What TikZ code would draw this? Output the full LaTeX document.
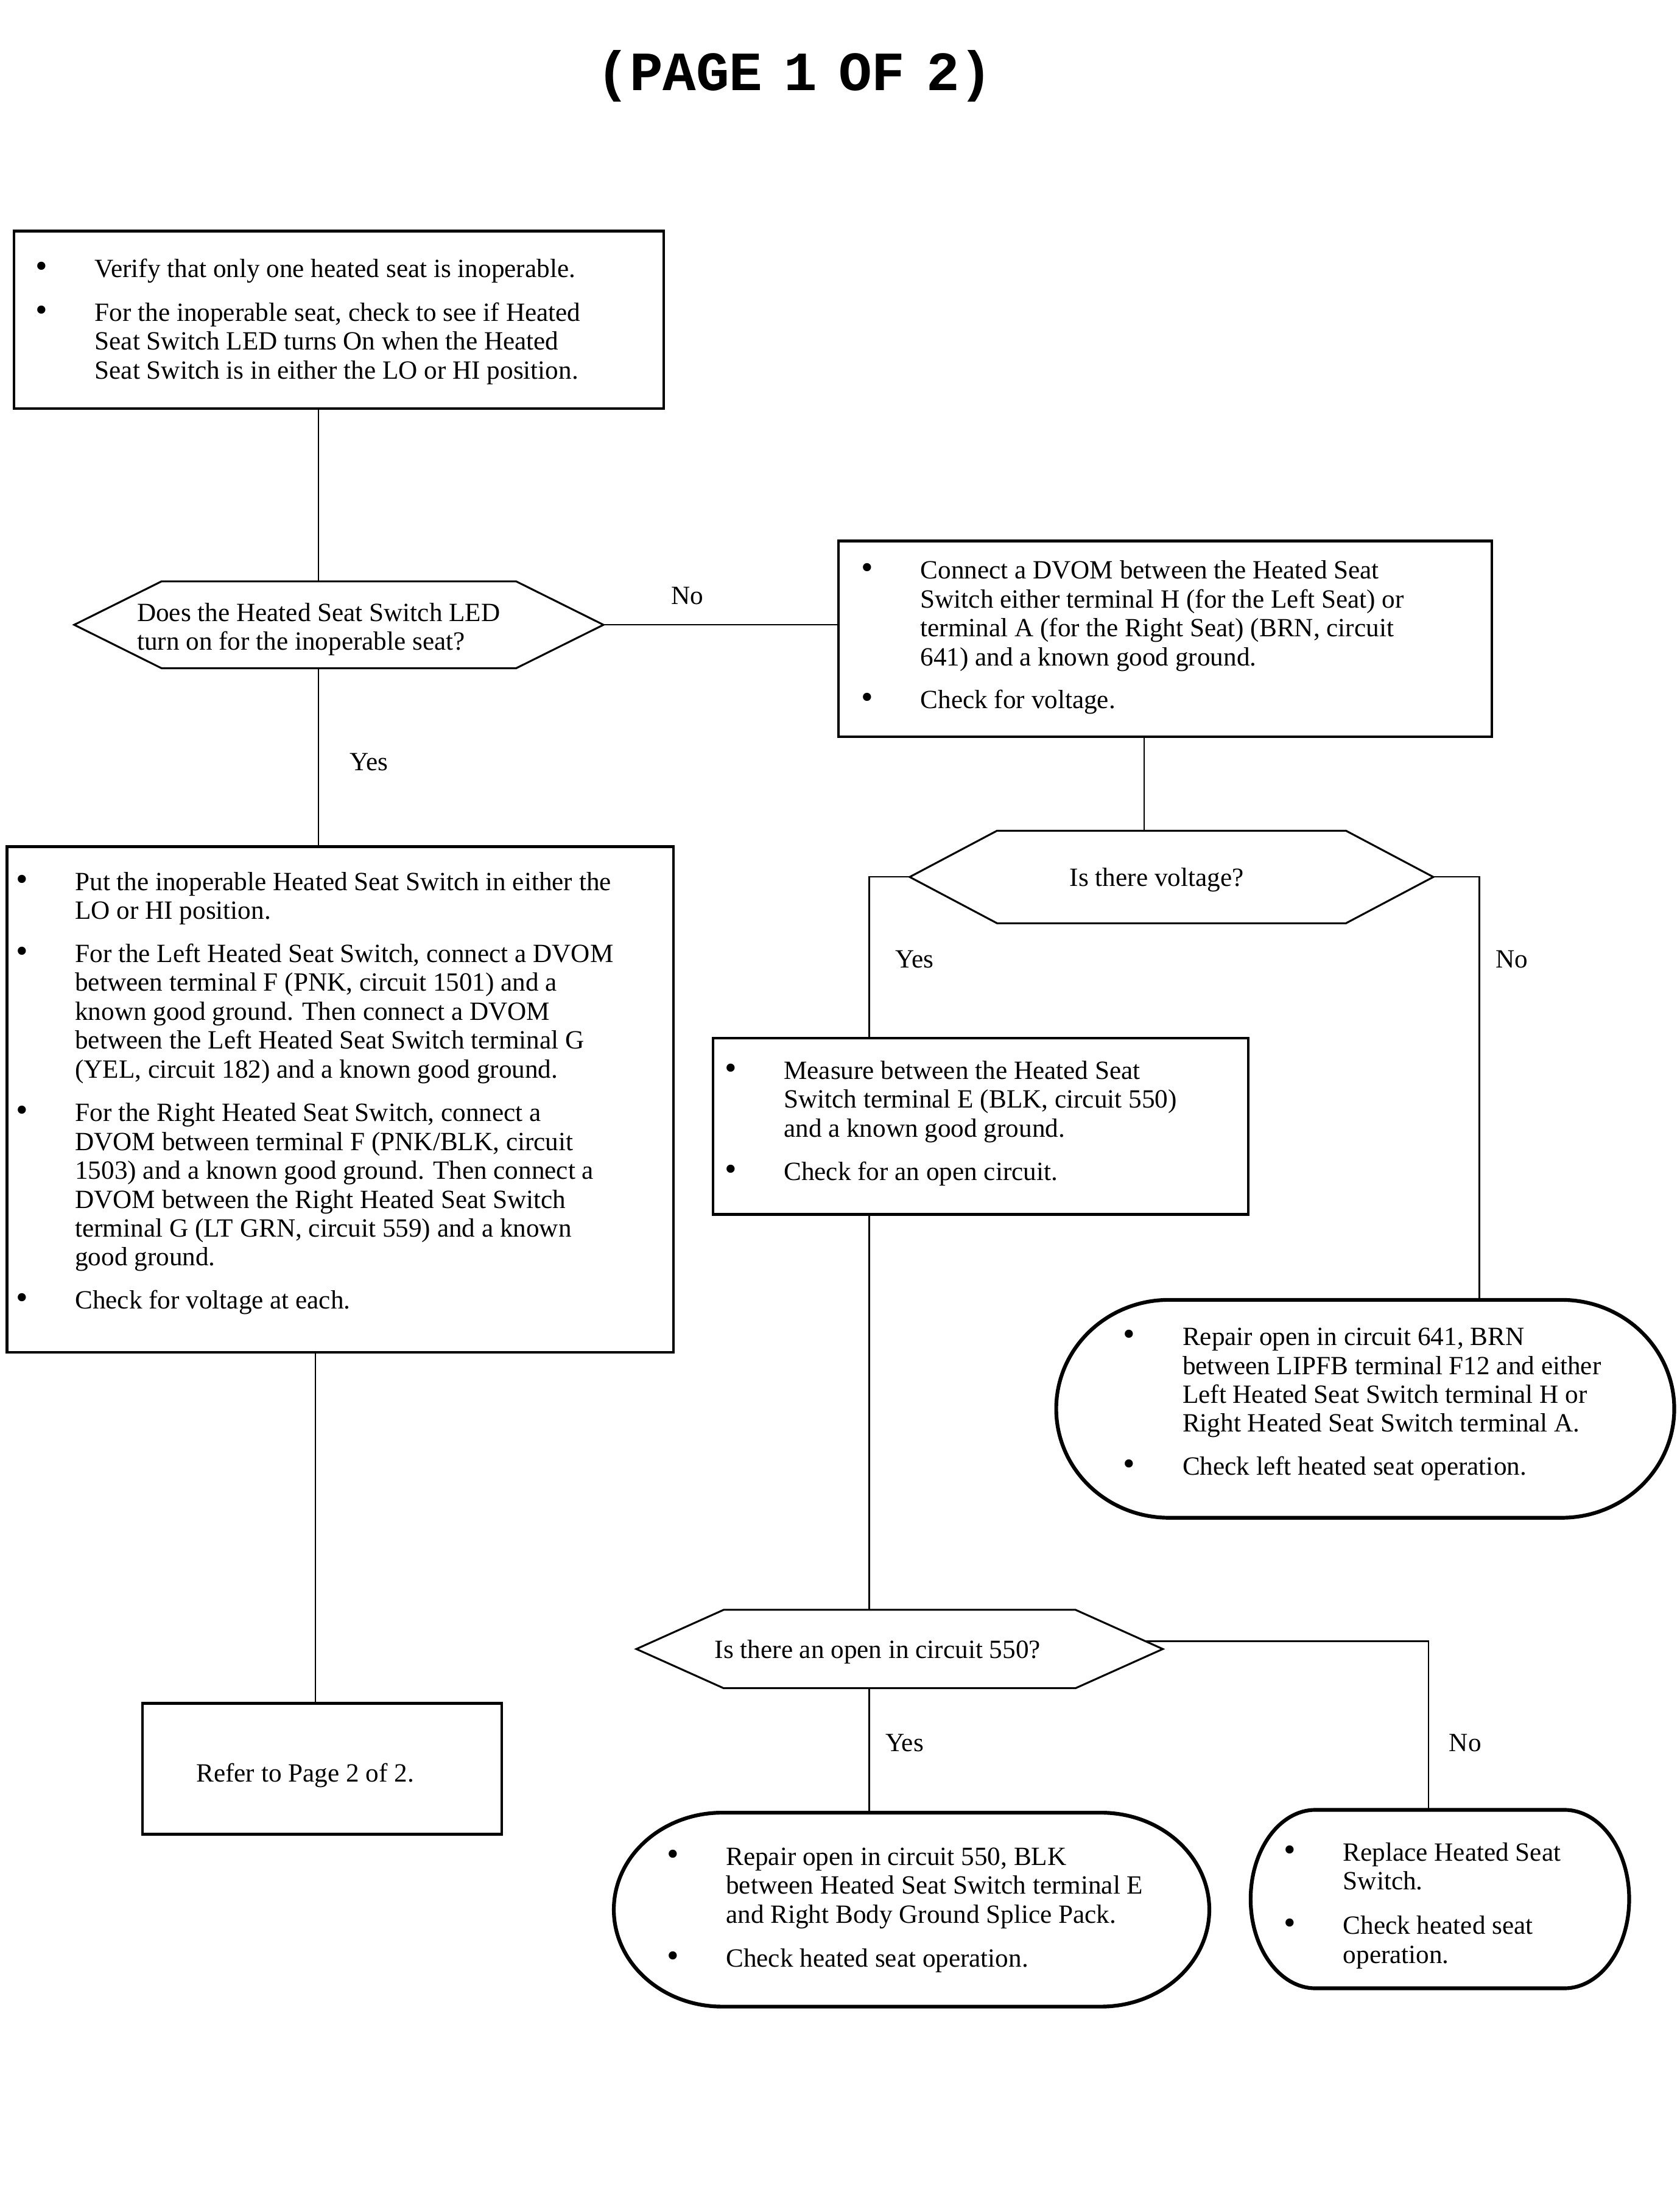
\documentclass[tikz,border=0pt]{standalone}
\usepackage{fontspec}
\setmainfont{Liberation Serif}
\newfontfamily\titlefont[WordSpace=0.64]{Liberation Mono}
\usetikzlibrary{fit,calc}
\newcommand\hexshape[2]{\draw[hexline] (#1.west) -- ($(#1.north west)+(#2,0)$) -- ($(#1.north east)+(-#2,0)$) -- (#1.east) -- ($(#1.south east)+(-#2,0)$) -- ($(#1.south west)+(#2,0)$) -- cycle;}
\newcommand\termshape[2]{\draw[termline] ($(#1.north west)+(#2,0)$) -- ($(#1.north east)+(-#2,0)$)
 .. controls ($(#1.north east)+(-0.4477*#2,0)$) and ($(#1.east)!0.5523!(#1.north east)$) .. (#1.east)
 .. controls ($(#1.east)!0.5523!(#1.south east)$) and ($(#1.south east)+(-0.4477*#2,0)$) .. ($(#1.south east)+(-#2,0)$)
 -- ($(#1.south west)+(#2,0)$)
 .. controls ($(#1.south west)+(0.4477*#2,0)$) and ($(#1.west)!0.5523!(#1.south west)$) .. (#1.west)
 .. controls ($(#1.west)!0.5523!(#1.north west)$) and ($(#1.north west)+(0.4477*#2,0)$) .. ($(#1.north west)+(#2,0)$) -- cycle;}
\begin{document}
\begin{tikzpicture}[x=0.6pt,y=-0.6pt,
  box/.style={draw, line width=1.1pt, inner sep=0pt},
  ghost/.style={draw=none, inner sep=0pt},
  hexline/.style={line width=0.8pt, line join=miter},
  termline/.style={line width=1.6pt, line join=round},
  conn/.style={line width=0.6pt},
  txt/.style={anchor=base west, inner sep=0pt, align=left, font=\fontsize{11.2}{12.3}\selectfont},
  bul/.style={anchor=base west, inner sep=0pt, xshift=-0.6pt, font=\fontsize{14.5}{15}\selectfont},
  lbl/.style={anchor=base, inner sep=0pt, font=\fontsize{11.2}{12.3}\selectfont}]
\path[fill=white, use as bounding box] (0,0) rectangle (1192,1568);

\node[anchor=base, inner sep=0pt, font=\titlefont\bfseries\fontsize{23.6}{28}\selectfont] (title) at (564,64) {(PAGE 1 OF 2)};

% helper x positions
\coordinate (x226) at (226,0);
\coordinate (x224) at (224,0);
\coordinate (x812) at (812,0);
\coordinate (x617) at (617,0);
\coordinate (x1050) at (1050,0);
\coordinate (x1014) at (1014,0);

% top box (multi-line text nodes are anchored at their last baseline)
\node[box, fit={(10,164) (471,290)}] (b1) {};
\node[bul] (b1u1) at (26,197) {•};
\node[txt] (b1t1) at (67,197) {Verify that only one heated seat is inoperable.};
\node[bul] (b1u2) at (26,228) {•};
\node[txt] (b1t2) at (67,269) {For the inoperable seat, check to see if Heated\\Seat Switch LED turns On when the Heated\\Seat Switch is in either the LO or HI position.};

% decision 1
\node[ghost, fit={(53,413) (428,474)}] (d1) {};
\hexshape{d1}{62}
\node[txt] (d1t) at (97,461.5) {Does the Heated Seat Switch LED\\turn on for the inoperable seat?};

% box 2
\node[box, fit={(595,384) (1059,523)}] (b2) {};
\node[bul] (b2u1) at (612,411) {•};
\node[txt] (b2t1) at (653,472.5) {Connect a DVOM between the Heated Seat\\Switch either terminal H (for the Left Seat) or\\terminal A (for the Right Seat) (BRN, circuit\\641) and a known good ground.};
\node[bul] (b2u2) at (612,503) {•};
\node[txt] (b2t2) at (653,503) {Check for voltage.};

% decision 2
\node[ghost, fit={(646,590) (1017,655)}] (d2) {};
\hexshape{d2}{62}
\node[txt] (d2t) at (759,629) {Is there voltage?};

% box 3 (left big)
\node[box, fit={(5,601) (478,960)}] (b3) {};
\node[bul] (b3u1) at (12,632) {•};
\node[txt] (b3t1) at (53,652.5) {Put the inoperable Heated Seat Switch in either the\\LO or HI position.};
\node[bul] (b3u2) at (12,683) {•};
\node[txt] (b3t2) at (53,765) {For the Left Heated Seat Switch, connect a DVOM\\between terminal F (PNK, circuit 1501) and a\\known good ground. Then connect a DVOM\\between the Left Heated Seat Switch terminal G\\(YEL, circuit 182) and a known good ground.};
\node[bul] (b3u3) at (12,796) {•};
\node[txt] (b3t3) at (53,898.5) {For the Right Heated Seat Switch, connect a\\DVOM between terminal F (PNK/BLK, circuit\\1503) and a known good ground. Then connect a\\DVOM between the Right Heated Seat Switch\\terminal G (LT GRN, circuit 559) and a known\\good ground.};
\node[bul] (b3u4) at (12,929) {•};
\node[txt] (b3t4) at (53,929) {Check for voltage at each.};

% box 4 (measure)
\node[box, fit={(506,737) (886,862)}] (b4) {};
\node[bul] (b4u1) at (515,766) {•};
\node[txt] (b4t1) at (556,807) {Measure between the Heated Seat\\Switch terminal E (BLK, circuit 550)\\and a known good ground.};
\node[bul] (b4u2) at (515,838) {•};
\node[txt] (b4t2) at (556,838) {Check for an open circuit.};

% terminal 1 (repair 641)
\node[ghost, fit={(750,923) (1188,1077)}] (t1) {};
\termshape{t1}{80}
\node[bul] (t1u1) at (798,955) {•};
\node[txt] (t1t1) at (839,1016.5) {Repair open in circuit 641, BRN\\between LIPFB terminal F12 and either\\Left Heated Seat Switch terminal H or\\Right Heated Seat Switch terminal A.};
\node[bul] (t1u2) at (798,1047) {•};
\node[txt] (t1t2) at (839,1047) {Check left heated seat operation.};

% decision 3
\node[ghost, fit={(452,1143) (825,1198)}] (d3) {};
\hexshape{d3}{62}
\node[txt] (d3t) at (507,1177) {Is there an open in circuit 550?};
\coordinate (d3tr) at ($(d3.north east)+(-62,0)$);

% terminal 2 (repair 550)
\node[ghost, fit={(436,1287) (858,1424)}] (t2) {};
\termshape{t2}{77}
\node[bul] (t2u1) at (474,1324) {•};
\node[txt] (t2t1) at (515,1365) {Repair open in circuit 550, BLK\\between Heated Seat Switch terminal E\\and Right Body Ground Splice Pack.};
\node[bul] (t2u2) at (474,1396) {•};
\node[txt] (t2t2) at (515,1396) {Check heated seat operation.};

% terminal 3 (replace)
\node[ghost, fit={(888,1285) (1156,1411)}] (t3) {};
\termshape{t3}{46}
\node[bul] (t3u1) at (912,1321) {•};
\node[txt] (t3t1) at (953,1341.5) {Replace Heated Seat\\Switch.};
\node[bul] (t3u2) at (912,1373) {•};
\node[txt] (t3t2) at (953,1393.5) {Check heated seat\\operation.};

% refer box
\node[box, fit={(101,1209) (356,1302)}] (b5) {};
\node[txt] (b5t) at (139,1265) {Refer to Page 2 of 2.};

% connectors
\draw[conn] (b1.south -| x226) -- (d1.north -| x226);
\draw[conn] (d1.south -| x226) -- (b3.north -| x226);
\draw[conn] (d1.east) -- (b2.west |- d1.east);
\draw[conn] (b2.south -| x812) -- (d2.north -| x812);
\draw[conn] (d2.west) -| (b4.north -| x617);
\draw[conn] (d2.east) -| (t1.north -| x1050);
\draw[conn] (b4.south -| x617) -- (d3.north -| x617);
\draw[conn] (d3.south -| x617) -- (t2.north -| x617);
\draw[conn] ($(d3tr)!0.8!(d3.east)$) -| (t3.north -| x1014);
\draw[conn] (b3.south -| x224) -- (b5.north -| x224);

% labels
\node[lbl] (l1) at (488,429) {No};
\node[lbl] (l2) at (262,547) {Yes};
\node[lbl] (l3) at (649,687) {Yes};
\node[lbl] (l4) at (1073,687) {No};
\node[lbl] (l5) at (642,1243) {Yes};
\node[lbl] (l6) at (1040,1243) {No};
\end{tikzpicture}
\end{document}
